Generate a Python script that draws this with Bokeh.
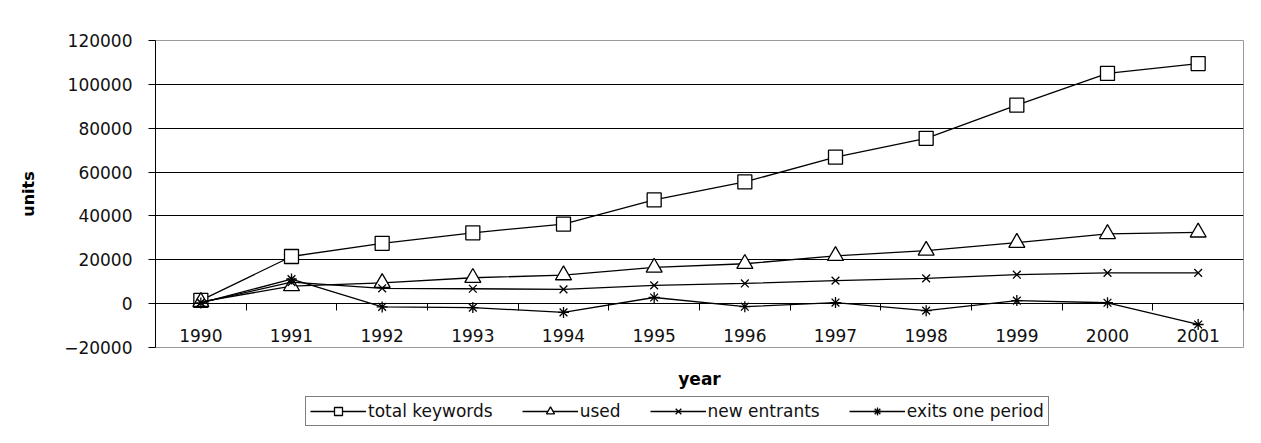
from bokeh.plotting import figure
from bokeh.layouts import column
from bokeh.models import (Range1d, LinearAxis, FixedTicker, Legend, LegendItem,
                          ColumnDataSource, BasicTickFormatter)
from bokeh.embed import file_html
from bokeh.resources import INLINE

# ---- data ----
years = ["1990", "1991", "1992", "1993", "1994", "1995",
         "1996", "1997", "1998", "1999", "2000", "2001"]
total_keywords = [1500, 21500, 27500, 32300, 36300, 47300,
                  55500, 66800, 75400, 90500, 105000, 109500]
used = [800, 8000, 9500, 11800, 13000, 16500,
        18200, 21800, 24200, 27800, 31800, 32500]
new_entrants = [500, 9800, 7000, 6800, 6500, 8300,
                9200, 10500, 11500, 13200, 14000, 14000]
exits_one_period = [300, 11200, -1500, -1800, -4000, 2800,
                    -1400, 500, -3200, 1400, 400, -9500]
y_ticks = [-20000, 0, 20000, 40000, 60000, 80000, 100000, 120000]
series_labels = ["total keywords", "used", "new entrants", "exits one period"]

FONT = "DejaVu Sans"
TXT = "#111111"
W, H_MAIN, H_LEG = 1245, 391, 36
BL, BR = 155, 2

xs = list(range(len(years)))
src = ColumnDataSource(dict(x=xs, total=total_keywords, used=used,
                            new=new_entrants, exits=exits_one_period))

p = figure(width=W, height=H_MAIN, output_backend="svg", toolbar_location=None,
           x_range=Range1d(-0.5, len(years) - 0.5),
           y_range=Range1d(y_ticks[0], y_ticks[-1]),
           x_axis_location=None,
           min_border_left=BL, min_border_right=BR,
           min_border_top=40, min_border_bottom=43)
p.background_fill_color = "white"
p.border_fill_color = "white"
p.outline_line_color = "#9a9a9a"
p.outline_line_width = 1

# y axis
p.yaxis.ticker = FixedTicker(ticks=y_ticks, minor_ticks=[])
p.yaxis.formatter = BasicTickFormatter(use_scientific=False)
p.yaxis.major_tick_out = 7
p.yaxis.major_tick_in = 0
p.yaxis.minor_tick_line_color = None
p.yaxis.axis_line_color = "black"
p.yaxis.major_tick_line_color = "black"
p.yaxis.major_label_standoff = 16
p.yaxis.major_label_text_font = FONT
p.yaxis.major_label_text_font_size = "17px"
p.yaxis.major_label_text_color = TXT
p.yaxis.axis_label = "units"
p.yaxis.axis_label_text_font = FONT
p.yaxis.axis_label_text_font_size = "16px"
p.yaxis.axis_label_text_font_style = "bold"
p.yaxis.axis_label_text_color = "black"
p.yaxis.axis_label_standoff = 23

# grid
p.ygrid.ticker = FixedTicker(ticks=y_ticks[1:-1], minor_ticks=[])
p.ygrid.grid_line_color = "black"
p.ygrid.grid_line_width = 1
p.xgrid.visible = False

# x axis crossing at zero: ticks between the categories
bound_ticks = [i - 0.5 for i in range(len(years) + 1)]
ax_ticks = LinearAxis(ticker=FixedTicker(ticks=bound_ticks, minor_ticks=[]),
                      fixed_location=0, major_tick_out=7, major_tick_in=0,
                      axis_line_color="black", major_tick_line_color="black",
                      minor_tick_line_color=None, major_label_text_color=None)
ax_labels = LinearAxis(ticker=FixedTicker(ticks=xs, minor_ticks=[]),
                       fixed_location=0,
                       major_label_overrides={i: y for i, y in enumerate(years)},
                       axis_line_color=None, major_tick_line_color=None,
                       minor_tick_line_color=None, major_tick_out=6,
                       major_tick_in=0, major_label_standoff=19,
                       major_label_text_font=FONT,
                       major_label_text_font_size="17px",
                       major_label_text_color=TXT)
p.add_layout(ax_ticks, "below")
p.add_layout(ax_labels, "below")

# x axis title "year"
ax_title = LinearAxis(ticker=FixedTicker(ticks=[], minor_ticks=[]),
                      axis_line_color=None, major_tick_line_color=None,
                      minor_tick_line_color=None, major_tick_out=0,
                      major_tick_in=0, major_label_text_font_size="1px",
                      axis_label="year", axis_label_standoff=21,
                      axis_label_text_font=FONT,
                      axis_label_text_font_size="17px",
                      axis_label_text_font_style="bold",
                      axis_label_text_color="black")
p.add_layout(ax_title, "below")

# legend strip below the chart (its glyph copies sit outside its ranges)
lf = figure(width=W, height=H_LEG, output_backend="svg", toolbar_location=None,
            x_range=Range1d(20, 30), y_range=Range1d(2e6, 3e6),
            x_axis_location=None, y_axis_location=None,
            min_border_left=BL, min_border_right=BR,
            min_border_top=0, min_border_bottom=0)
lf.outline_line_color = None
lf.grid.visible = False
lf.background_fill_color = "white"
lf.border_fill_color = "white"

LW = 1.3
styles = [("total", "square", 14), ("used", "triangle", 16),
          ("new", "x", 11), ("exits", "asterisk", 11)]
items = []
for label, (col, marker, size) in zip(series_labels, styles):
    p.line("x", col, source=src, line_color="black", line_width=LW)
    p.scatter("x", col, source=src, marker=marker, size=size,
              line_color="black", fill_color="white", line_width=LW)
    l = lf.line("x", col, source=src, line_color="black", line_width=LW)
    s = lf.scatter("x", col, source=src, marker=marker, size=size,
                   line_color="black", fill_color="white", line_width=LW)
    items.append(LegendItem(label=label, renderers=[l, s]))

legend = Legend(items=items, orientation="horizontal", location=(150, 1),
                border_line_color="black", border_line_width=1.5,
                background_fill_color="white", background_fill_alpha=1,
                label_text_font=FONT, label_text_font_size="17px",
                label_text_color=TXT, glyph_width=56, glyph_height=20,
                label_standoff=2, spacing=29, padding=4, margin=0)
lf.add_layout(legend, "center")

layout = column(p, lf, spacing=0)

open("out.html", "w").write(file_html(layout, INLINE))
